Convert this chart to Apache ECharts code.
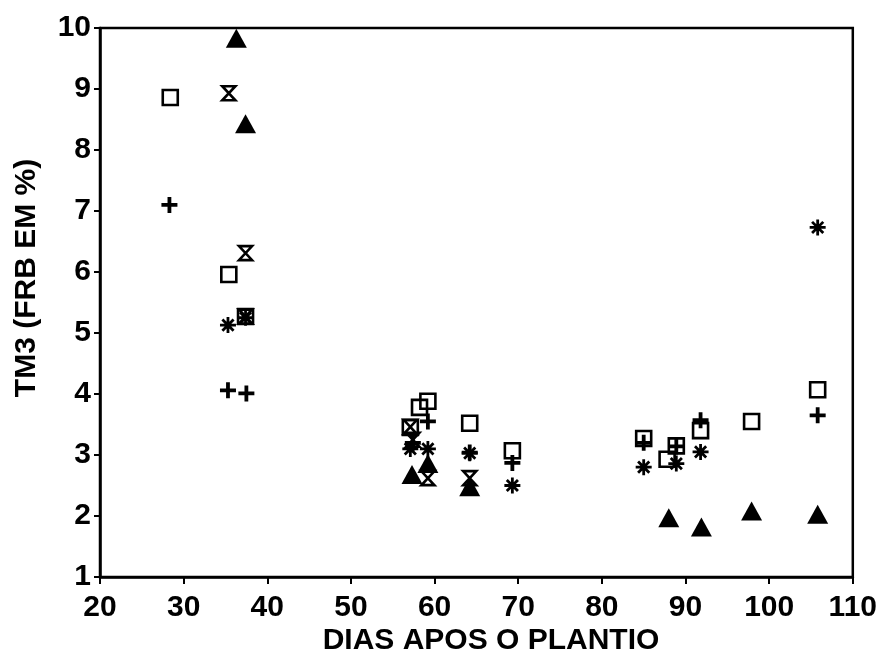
<!DOCTYPE html>
<html>
<head>
<meta charset="utf-8">
<script src="https://cdn.jsdelivr.net/npm/echarts@6/dist/echarts.min.js"></script>
<style>html,body{margin:0;padding:0;background:#fff}#c{width:880px;height:665px}</style>
</head>
<body>
<div id="c"></div>
<script>
const xTitle = 'DIAS APOS O PLANTIO';
const yTitle = 'TM3 (FRB EM %)';

const squareX = [28.4, 35.4, 37.4, 57.1, 58.2, 59.2, 64.2, 69.3, 85.0, 87.8, 88.9, 91.8, 97.9, 105.8];
const squareY = [8.86, 5.96, 5.27, 3.45, 3.78, 3.88, 3.52, 3.07, 3.27, 2.93, 3.15, 3.40, 3.55, 4.07];

const hourglassX = [35.4, 37.4, 37.4, 57.1, 57.4, 59.2, 64.2];
const hourglassY = [8.93, 6.31, 5.27, 3.46, 3.25, 2.62, 2.62];

const asteriskX = [35.3, 37.4, 57.1, 59.2, 64.2, 69.3, 85.0, 88.9, 91.8, 105.8];
const asteriskY = [5.13, 5.25, 3.10, 3.10, 3.03, 2.50, 2.80, 2.86, 3.05, 6.73];

const plusX = [28.3, 35.3, 37.5, 57.4, 59.2, 64.2, 69.3, 85.0, 88.9, 91.8, 105.8];
const plusY = [7.10, 4.06, 4.01, 3.20, 3.55, 3.04, 2.87, 3.20, 3.14, 3.57, 3.65];

const triangleX = [36.3, 37.4, 57.3, 59.2, 64.2, 88.0, 91.9, 97.9, 105.8];
const triangleY = [9.83, 8.43, 2.68, 2.86, 2.48, 1.97, 1.82, 2.08, 2.03];

const xTicks = [20, 30, 40, 50, 60, 70, 80, 90, 100, 110];
const yTicks = [1, 2, 3, 4, 5, 6, 7, 8, 9, 10];

function pairs(xs, ys) { return xs.map((x, i) => [x, ys[i]]); }

const FONT = "'Liberation Sans', Arial, sans-serif";
const chart = echarts.init(document.getElementById('c'), null, {renderer: 'canvas'});

const hollow = {color: 'rgba(0,0,0,0)', borderColor: '#000', borderWidth: 2.6, opacity: 1};

chart.setOption({
  animation: false,
  backgroundColor: '#fff',
  grid: {left: 100, right: 26, top: 28, bottom: 88, show: true, borderColor: '#000', borderWidth: 2.5, backgroundColor: 'rgba(0,0,0,0)'},
  xAxis: {
    type: 'value', min: xTicks[0], max: xTicks[xTicks.length - 1], interval: 10,
    splitLine: {show: false},
    axisLine: {lineStyle: {color: '#000', width: 2.5}},
    axisTick: {inside: false, length: 7, lineStyle: {color: '#000', width: 2}},
    axisLabel: {margin: 16, color: '#000', fontFamily: FONT, fontWeight: 'bold', fontSize: 30}
  },
  yAxis: {
    type: 'value', min: yTicks[0], max: yTicks[yTicks.length - 1], interval: 1,
    splitLine: {show: false},
    axisLine: {lineStyle: {color: '#000', width: 2.5}},
    axisTick: {inside: false, length: 6, lineStyle: {color: '#000', width: 2}},
    axisLabel: {margin: 9, color: '#000', fontFamily: FONT, fontWeight: 'bold', fontSize: 30}
  },
  graphic: [
    {type: 'text', x: 491, y: 641, style: {text: xTitle, align: 'center', verticalAlign: 'middle', fill: '#000', font: "bold 30px 'Liberation Sans', Arial, sans-serif"}},
    {type: 'text', x: 27, y: 278, rotation: Math.PI / 2, style: {text: yTitle, align: 'center', verticalAlign: 'middle', fill: '#000', font: "bold 30px 'Liberation Sans', Arial, sans-serif"}}
  ],
  series: [
    {name: 'square', type: 'scatter', data: pairs(squareX, squareY), symbol: 'rect', symbolSize: 15, itemStyle: hollow, emphasis: {disabled: true}, z: 3},
    {name: 'hourglass', type: 'scatter', data: pairs(hourglassX, hourglassY), symbol: 'path://M0,0 L10,0 L0,10 L10,10 Z', symbolSize: [13, 14], itemStyle: hollow, emphasis: {disabled: true}, z: 4},
    {name: 'asterisk', type: 'scatter', data: pairs(asteriskX, asteriskY), symbol: 'path://M5,0 L5,10 M0,5 L10,5 M1.5,1.5 L8.5,8.5 M8.5,1.5 L1.5,8.5', symbolSize: [16, 16], itemStyle: {color: 'rgba(0,0,0,0)', borderColor: '#000', borderWidth: 2.8, opacity: 1}, emphasis: {disabled: true}, z: 5},
    {name: 'plus', type: 'scatter', data: pairs(plusX, plusY), symbol: 'path://M5,0 L5,10 M0,5 L10,5', symbolSize: [16, 16], itemStyle: {color: 'rgba(0,0,0,0)', borderColor: '#000', borderWidth: 3.8, opacity: 1}, emphasis: {disabled: true}, z: 6},
    {name: 'triangle', type: 'scatter', data: pairs(triangleX, triangleY), symbol: 'triangle', symbolSize: [21, 19], itemStyle: {color: '#000', opacity: 1}, emphasis: {disabled: true}, z: 7}
  ]
});
</script>
</body>
</html>
